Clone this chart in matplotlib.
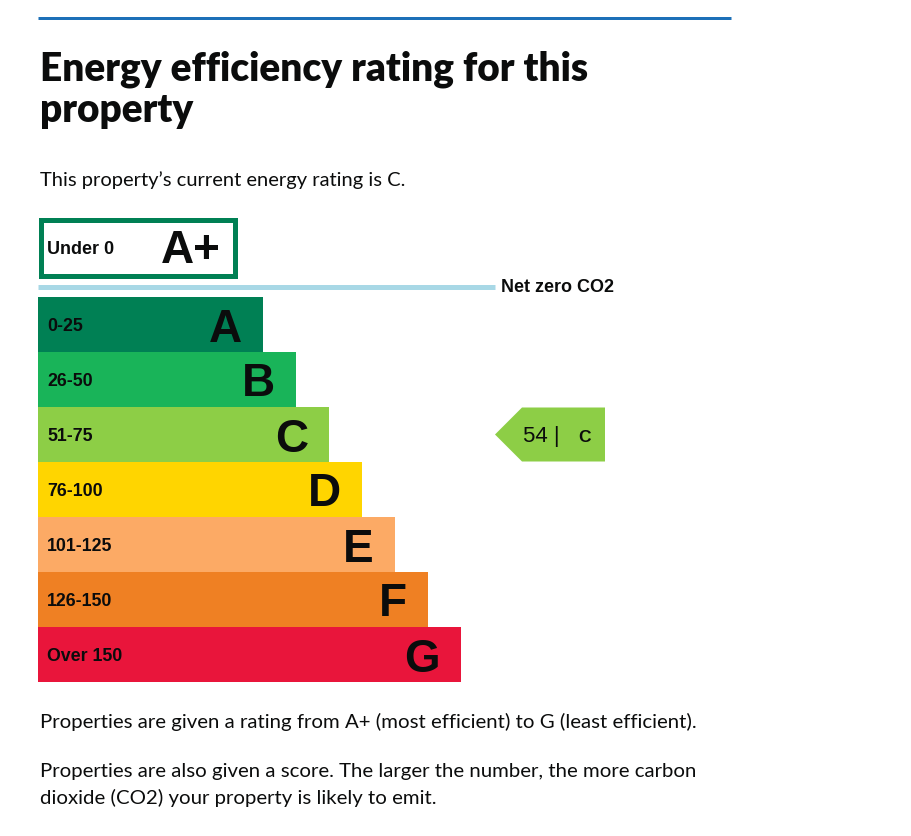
import matplotlib
matplotlib.use("Agg")
import matplotlib.pyplot as plt
from matplotlib.patches import Rectangle, Polygon

# ---- data ----
bands = ["A", "B", "C", "D", "E", "F", "G"]
ranges = ["0-25", "26-50", "51-75", "76-100", "101-125", "126-150", "Over 150"]
colors = ["#008054", "#19b459", "#8dce46", "#ffd500", "#fcaa65", "#ef8023", "#e9153b"]
top_band = "A+"
top_range = "Under 0"
net_zero_label = "Net zero CO2"
current_score = 54
current_band = "C"
title_lines = ["Energy efficiency rating for this", "property"]
subtitle = "This property\u2019s current energy rating is C."
footer_lines = [
    "Properties are given a rating from A+ (most efficient) to G (least efficient).",
    "Properties are also given a score. The larger the number, the more carbon",
    "dioxide (CO2) your property is likely to emit.",
]

# ---- layout (pixels) ----
W, H = 912, 836
fig = plt.figure(figsize=(W / 100, H / 100), dpi=100)
ax = fig.add_axes([0, 0, 1, 1])
ax.set_xlim(0, W)
ax.set_ylim(H, 0)
ax.axis("off")
renderer = fig.canvas.get_renderer()
PT = 72 / 100  # points per pixel

GOV = "Lato"
ARIAL = "Liberation Sans"
INK = "#0b0c0c"


def fit_text(x, y, s, target_w, **kw):
    t = ax.text(x, y, s, fontsize=20, **kw)
    bb = t.get_window_extent(renderer)
    t.set_fontsize(20 * target_w / bb.width)
    return t


# top blue rule
ax.plot([38, 731], [17.5, 17.5], color="#1d70b8", lw=3 * PT, solid_capstyle="butt")

# title
t1 = fit_text(40, 81, title_lines[0], 549, fontfamily=GOV, fontweight="heavy",
              color=INK, va="baseline")
ax.text(40, 122, title_lines[1], fontsize=t1.get_fontsize(), fontfamily=GOV,
        fontweight="heavy", color=INK, va="baseline")

# subtitle
fit_text(40, 186, subtitle, 367, fontfamily=GOV, color=INK, va="baseline")

# A+ box
ax.add_patch(Rectangle((41.5, 219.5), 194, 56, fill=False, edgecolor=colors[0],
                       lw=5 * PT, joinstyle="miter"))
ax.text(47, 254, top_range, fontsize=13, fontfamily=ARIAL, fontweight="bold",
        color=INK, va="baseline")
ax.text(221, 263, top_band, fontsize=33, fontfamily=ARIAL, fontweight="bold",
        color=INK, va="baseline", ha="right")

# net zero line
ax.plot([38, 495], [286.5, 286.5], color="#a8d8e6", lw=5 * PT, solid_capstyle="butt")
ax.text(501, 292, net_zero_label, fontsize=13, fontfamily=ARIAL, fontweight="bold",
        color=INK, va="baseline")

# bands
band_top, band_h = 297, 55
centers = [band_top + band_h * (i + 0.5) for i in range(len(bands))]
widths = [225 + 33 * i for i in range(len(bands))]
ax.barh(centers, widths, left=38, height=band_h, color=colors, edgecolor="none")
for c, w, b, r in zip(centers, widths, bands, ranges):
    ax.text(47, c + 6.5, r, fontsize=12.8, fontfamily=ARIAL, fontweight="bold",
            color=INK, va="baseline")
    ax.text(38 + w - 21, c + 17, b, fontsize=33, fontfamily=ARIAL, fontweight="bold",
            color=INK, va="baseline", ha="right")

# current rating arrow
ci = bands.index(current_band)
cy = centers[ci]
top, bot = cy - 27, cy + 27
ax.add_patch(Polygon([(495, cy), (522, top), (605, top), (605, bot), (522, bot)],
                     closed=True, facecolor=colors[ci], edgecolor="none"))
ax.text(523, cy + 7.5, f"{current_score} |", fontsize=16, fontfamily=ARIAL,
        color=INK, va="baseline")
ax.text(578, cy + 7.5, current_band, fontsize=12.5, fontfamily=ARIAL, fontweight="bold",
        color=INK, va="baseline")

# footer
f1 = fit_text(40, 728, footer_lines[0], 657, fontfamily=GOV, color=INK,
              va="baseline")
for y, s in zip([777, 804], footer_lines[1:]):
    ax.text(40, y, s, fontsize=f1.get_fontsize(), fontfamily=GOV, color=INK,
            va="baseline")

fig.savefig("out.png", dpi=100, facecolor="white")
